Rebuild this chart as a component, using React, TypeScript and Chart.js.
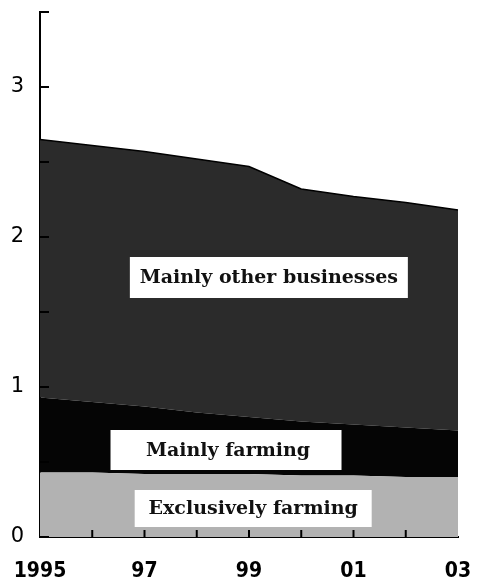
import React, { useEffect, useRef } from 'react';
import { Chart, registerables } from 'chart.js';

Chart.register(...registerables);

const years = ['1995', '1996', '1997', '1998', '1999', '2000', '2001', '2002', '2003'];
const xTickLabels = ['1995', '', '97', '', '99', '', '01', '', '03'];
const exclusivelyFarming = [0.43, 0.43, 0.42, 0.42, 0.42, 0.41, 0.41, 0.40, 0.40];
const mainlyFarming = [0.50, 0.47, 0.45, 0.41, 0.38, 0.36, 0.34, 0.33, 0.31];
const mainlyOtherBusinesses = [1.72, 1.71, 1.70, 1.69, 1.67, 1.55, 1.52, 1.50, 1.47];
const seriesNames = ['Exclusively farming', 'Mainly farming', 'Mainly other businesses'];
const yMax = 3.5;
const yStep = 0.5;

const inwardTicks = {
  id: 'inwardTicks',
  afterDatasetsDraw(chart: any) {
    const { ctx, scales } = chart;
    const x = scales.x;
    const y = scales.y;
    ctx.save();
    ctx.strokeStyle = '#000';
    ctx.lineWidth = 2;
    y.ticks.forEach((t: any) => {
      const py = y.getPixelForValue(t.value);
      ctx.beginPath();
      ctx.moveTo(x.left, py);
      ctx.lineTo(x.left + 9, py);
      ctx.stroke();
    });
    years.forEach((_, i) => {
      if (i === 0 || i === years.length - 1) return;
      const px = x.getPixelForValue(i);
      ctx.beginPath();
      ctx.moveTo(px, y.bottom);
      ctx.lineTo(px, y.bottom - 7);
      ctx.stroke();
    });
    ctx.restore();
  },
};

const boxLabels = {
  id: 'boxLabels',
  afterDatasetsDraw(chart: any, _args: any, opts: any) {
    const { ctx, scales } = chart;
    ctx.save();
    (opts.items || []).forEach((it: any) => {
      const cx = scales.x.getPixelForValue(it.x);
      const cy = scales.y.getPixelForValue(it.y);
      ctx.fillStyle = '#fff';
      ctx.fillRect(cx - it.w / 2, cy - it.h / 2, it.w, it.h);
      ctx.fillStyle = '#111';
      ctx.font = opts.font;
      ctx.textAlign = 'center';
      ctx.textBaseline = 'middle';
      ctx.fillText(it.text, cx + (it.dx || 0), cy + 1);
    });
    ctx.restore();
  },
};

export default function App() {
  const ref = useRef<HTMLCanvasElement>(null);
  useEffect(() => {
    if (!ref.current) return;
    const chart = new Chart(ref.current, {
      type: 'line',
      data: {
        labels: years,
        datasets: [
          {
            label: seriesNames[0],
            data: exclusivelyFarming,
            backgroundColor: '#b2b2b2',
            borderColor: '#b2b2b2',
            borderWidth: 0,
            fill: 'origin',
            pointRadius: 0,
            tension: 0,
          },
          {
            label: seriesNames[1],
            data: mainlyFarming,
            backgroundColor: '#050505',
            borderColor: '#050505',
            borderWidth: 0,
            fill: '-1',
            pointRadius: 0,
            tension: 0,
          },
          {
            label: seriesNames[2],
            data: mainlyOtherBusinesses,
            backgroundColor: '#2b2b2b',
            borderColor: '#000',
            borderWidth: 1.5,
            fill: '-1',
            pointRadius: 0,
            tension: 0,
          },
        ],
      },
      options: {
        animation: false,
        responsive: true,
        maintainAspectRatio: false,
        layout: { padding: { top: 12, right: 25, left: 0, bottom: 0 } },
        plugins: {
          legend: { display: false },
          tooltip: { enabled: false },
          boxLabels: {
            font: 'bold 19px "DejaVu Serif"',
            items: [
              { text: seriesNames[2], x: 4.38, y: 1.73, w: 278, h: 41 },
              { text: seriesNames[1], x: 3.56, y: 0.58, w: 231, h: 40, dx: 2 },
              { text: seriesNames[0], x: 4.08, y: 0.19, w: 237, h: 37 },
            ],
          },
        } as any,
        scales: {
          x: {
            offset: false,
            grid: { display: false, drawTicks: false },
            border: { display: true, color: '#000', width: 2 },
            ticks: {
              autoSkip: false,
              maxRotation: 0,
              padding: 22,
              color: '#000',
              font: { family: '"DejaVu Sans Condensed", "DejaVu Sans"', size: 21, weight: 'bold' },
              callback: (_v: any, i: number) => xTickLabels[i],
            },
            afterFit: (s: any) => {
              s.height = 49;
              s.paddingLeft = 0;
              s.paddingRight = 0;
            },
          },
          y: {
            stacked: true,
            min: 0,
            max: yMax,
            grid: { display: false, drawTicks: false },
            border: { display: true, color: '#000', width: 2 },
            ticks: {
              stepSize: yStep,
              padding: 16,
              color: '#000',
              font: { family: 'DejaVu Sans', size: 21 },
              callback: (v: any) => (Number(v) % 1 === 0 ? String(v) : ''),
            },
            afterFit: (s: any) => {
              s.width = 40;
              s.paddingTop = 0;
              s.paddingBottom = 0;
            },
          },
        },
      },
      plugins: [inwardTicks, boxLabels],
    });
    return () => chart.destroy();
  }, []);
  return (
    <div style={{ position: 'fixed', left: 0, top: 0, width: 483, height: 586, background: '#fff' }}>
      <canvas ref={ref} />
    </div>
  );
}
